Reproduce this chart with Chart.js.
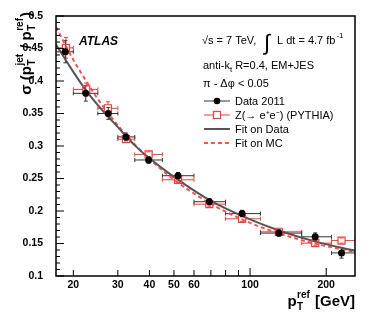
<!DOCTYPE html>
<html>
<head>
<meta charset="utf-8">
<script src="https://cdn.jsdelivr.net/npm/chart.js@4.4.0/dist/chart.umd.min.js"></script>
<style>
  html, body { margin: 0; padding: 0; background: #fff; }
  #wrap { width: 374px; height: 318px; }
</style>
</head>
<body>
<div id="wrap"><canvas id="c" width="374" height="318"></canvas></div>
<script>
// values
const binLo = [17, 20, 25, 30, 35, 45, 60, 80, 110, 160, 210];
const binHi = [20, 25, 30, 35, 45, 60, 80, 110, 160, 210, 260];

const dataX = [18.6, 22.4, 27.5, 32.3, 39.7, 51.9, 69, 93, 130, 181, 230];
const dataY = [0.445, 0.381, 0.350, 0.314, 0.2785, 0.2543, 0.2143, 0.196, 0.166, 0.1603, 0.1355];
const dataErr = [0.017, 0.012, 0.009, 0.006, 0.005, 0.005, 0.005, 0.005, 0.005, 0.006, 0.008];

const mcX = [18.7, 22.5, 27.4, 32.3, 39.7, 51.9, 69, 93, 130, 181, 230];
const mcY = [0.451, 0.387, 0.358, 0.3105, 0.287, 0.248, 0.2105, 0.188, 0.168, 0.1505, 0.1545];
const mcErr = [0.016, 0.010, 0.010, 0.005, 0.004, 0.004, 0.004, 0.004, 0.004, 0.004, 0.004];

const fitX = [17.08, 20, 22.4, 25, 30, 35, 40, 50, 70, 100, 130, 180, 260];
const fitData = [0.456, 0.414, 0.386, 0.363, 0.329, 0.301, 0.281, 0.2525, 0.2155, 0.187, 0.170, 0.1533, 0.139];
const fitMC = [0.483, 0.4325, 0.401, 0.3723, 0.3317, 0.3023, 0.280, 0.2483, 0.2109, 0.1818, 0.1656, 0.150, 0.137];

const xTicks = [20, 30, 40, 50, 60, 70, 80, 90, 100, 200];
const xLabels = [20, 30, 40, 50, 60, 100, 200];

const RED = '#ff3b3b';
const FONT = '"Liberation Sans", Arial, sans-serif';

function pts(xs, ys) {
  return xs.map((x, i) => ({ x: x, y: ys[i] }));
}

// text with stacked sub/superscripts
function richWidth(ctx, parts) {
  let w = 0;
  parts.forEach(p => {
    ctx.font = p.f;
    if (p.sup !== undefined) {
      w += Math.max(ctx.measureText(p.sup).width, ctx.measureText(p.sub).width) + 1.5;
    } else {
      w += ctx.measureText(p.t).width;
    }
  });
  return w;
}
function drawRich(ctx, x, y, parts) {
  ctx.textBaseline = 'alphabetic';
  ctx.textAlign = 'left';
  parts.forEach(p => {
    ctx.font = p.f;
    if (p.sup !== undefined) {
      ctx.fillText(p.sup, x + 0.5, y - 8);
      ctx.fillText(p.sub, x + 0.5, y + 4);
      x += Math.max(ctx.measureText(p.sup).width, ctx.measureText(p.sub).width) + 1.5;
    } else {
      ctx.fillText(p.t, x, y + (p.dy || 0));
      x += ctx.measureText(p.t).width;
    }
  });
  return x;
}

function errBars(ctx, sx, sy, area, xs, ys, err, color, gap) {
  ctx.save();
  ctx.beginPath();
  ctx.rect(area.left, area.top, area.right - area.left, area.bottom - area.top);
  ctx.clip();
  ctx.strokeStyle = color;
  ctx.lineWidth = 1;
  ctx.beginPath();
  for (let i = 0; i < xs.length; i++) {
    const px = sx.getPixelForValue(xs[i]);
    const py = sy.getPixelForValue(ys[i]);
    const xl = sx.getPixelForValue(binLo[i]);
    const xr = sx.getPixelForValue(binHi[i]);
    const yt = sy.getPixelForValue(ys[i] + err[i]);
    const yb = sy.getPixelForValue(ys[i] - err[i]);
    ctx.moveTo(xl, py); ctx.lineTo(px - gap, py);
    ctx.moveTo(px + gap, py); ctx.lineTo(xr, py);
    ctx.moveTo(xl, py - 2); ctx.lineTo(xl, py + 2);
    ctx.moveTo(xr, py - 2); ctx.lineTo(xr, py + 2);
    if (yb - yt > 2 * gap) {
      ctx.moveTo(px, yt); ctx.lineTo(px, py - gap);
      ctx.moveTo(px, py + gap); ctx.lineTo(px, yb);
    }
    ctx.moveTo(px - 2, yt); ctx.lineTo(px + 2, yt);
    ctx.moveTo(px - 2, yb); ctx.lineTo(px + 2, yb);
  }
  ctx.stroke();
  ctx.restore();
}

const decor = {
  id: 'decor',
  beforeDatasetsDraw(chart) {
    const { ctx, chartArea: a, scales } = chart;
    errBars(ctx, scales.x, scales.y, a, mcX, mcY, mcErr, RED, 3.5);
    errBars(ctx, scales.x, scales.y, a, dataX, dataY, dataErr, '#333', 0);
  },
  afterDraw(chart) {
    const { ctx, chartArea: a, scales } = chart;
    ctx.save();
    // frame
    ctx.strokeStyle = '#000';
    ctx.lineWidth = 1.5;
    ctx.strokeRect(a.left, a.top, a.right - a.left, a.bottom - a.top);
    // ticks inside
    ctx.lineWidth = 1;
    ctx.beginPath();
    for (let k = 10; k <= 50; k++) {
      const y = scales.y.getPixelForValue(k / 100);
      const len = k % 5 === 0 ? 8 : 4;
      ctx.moveTo(a.left, y); ctx.lineTo(a.left + len, y);
    }
    xTicks.forEach(v => {
      const x = scales.x.getPixelForValue(v);
      const len = (v === 100 || v === 200) ? 8 : 6;
      ctx.moveTo(x, a.bottom); ctx.lineTo(x, a.bottom - len);
    });
    ctx.stroke();

    ctx.fillStyle = '#000';
    ctx.textBaseline = 'alphabetic';
    // ATLAS
    ctx.font = 'italic bold 12px ' + FONT;
    ctx.fillText('ATLAS', 79, 45);

    // header
    ctx.font = '11px ' + FONT;
    ctx.fillText('√s = 7 TeV,', 202, 44);
    ctx.font = '22px ' + FONT;
    ctx.fillText('∫', 264, 50);
    ctx.font = '11px ' + FONT;
    const hx = 277 + ctx.measureText('L dt = 4.7 fb').width;
    ctx.fillText('L dt = 4.7 fb', 277, 44);
    ctx.font = '8px ' + FONT;
    ctx.fillText('-1', hx + 1, 38);

    drawRich(ctx, 203, 69, [
      { t: 'anti-k', f: '11px ' + FONT },
      { t: 't', f: '8px ' + FONT, dy: 3 },
      { t: ' R=0.4, EM+JES', f: '11px ' + FONT }
    ]);
    ctx.font = '11px ' + FONT;
    ctx.fillText('π - Δφ < 0.05', 203, 87);

    // legend
    const rows = [101, 115, 129, 143];
    const names = ['Data 2011', 'Z(→ e⁺e⁻) (PYTHIA)', 'Fit on Data', 'Fit on MC'];
    ctx.textBaseline = 'middle';
    names.forEach((n, i) => ctx.fillText(n, 235, rows[i] + 0.5));
    ctx.lineWidth = 1;
    ctx.strokeStyle = '#333';
    ctx.beginPath(); ctx.moveTo(204, rows[0]); ctx.lineTo(230, rows[0]); ctx.stroke();
    ctx.beginPath(); ctx.arc(217, rows[0], 3.3, 0, Math.PI * 2); ctx.fill();
    ctx.strokeStyle = RED;
    ctx.beginPath();
    ctx.moveTo(204, rows[1]); ctx.lineTo(213.5, rows[1]);
    ctx.moveTo(220.5, rows[1]); ctx.lineTo(230, rows[1]);
    ctx.stroke();
    ctx.lineWidth = 1.2;
    ctx.strokeRect(213.5, rows[1] - 3.5, 7, 7);
    ctx.lineWidth = 2;
    ctx.strokeStyle = '#555';
    ctx.beginPath(); ctx.moveTo(204, rows[2]); ctx.lineTo(230, rows[2]); ctx.stroke();
    ctx.strokeStyle = '#ff5050';
    ctx.setLineDash([4, 3]);
    ctx.beginPath(); ctx.moveTo(204, rows[3]); ctx.lineTo(230, rows[3]); ctx.stroke();
    ctx.setLineDash([]);

    // axis titles
    const big = 'bold 15px ' + FONT, small = 'bold 10px ' + FONT;
    const xt = [
      { t: 'p', f: big },
      { sup: 'ref', sub: 'T', f: small },
      { t: ' [GeV]', f: big }
    ];
    ctx.fillStyle = '#000';
    drawRich(ctx, a.right - richWidth(ctx, xt), 306, xt);

    const yt = [
      { t: 'σ (p', f: big },
      { sup: 'jet', sub: 'T', f: small },
      { t: ' / p', f: big },
      { sup: 'ref', sub: 'T', f: small },
      { t: ')', f: big }
    ];
    const w = richWidth(ctx, yt);
    ctx.translate(31, 12);
    ctx.rotate(-Math.PI / 2);
    drawRich(ctx, -w, 0, yt);
    ctx.restore();
  }
};

new Chart(document.getElementById('c'), {
  type: 'scatter',
  data: {
    datasets: [
      {
        label: 'Data 2011',
        data: pts(dataX, dataY),
        pointStyle: 'circle',
        pointRadius: 3.5,
        backgroundColor: '#000',
        borderColor: '#000',
        borderWidth: 0
      },
      {
        label: 'Z(→ e+e-) (PYTHIA)',
        data: pts(mcX, mcY),
        pointStyle: 'rect',
        pointRadius: 5,
        backgroundColor: 'rgba(0,0,0,0)',
        borderColor: RED,
        borderWidth: 1.2
      },
      {
        label: 'Fit on Data',
        data: pts(fitX, fitData),
        showLine: true,
        pointRadius: 0,
        borderColor: '#555',
        borderWidth: 2,
        cubicInterpolationMode: 'monotone'
      },
      {
        label: 'Fit on MC',
        data: pts(fitX, fitMC),
        showLine: true,
        pointRadius: 0,
        borderColor: '#ff5050',
        borderWidth: 2,
        borderDash: [4, 3],
        cubicInterpolationMode: 'monotone'
      }
    ]
  },
  options: {
    responsive: false,
    animation: false,
    devicePixelRatio: 1,
    layout: { padding: { left: 0, top: 16, right: 19, bottom: 0 } },
    plugins: { legend: { display: false }, tooltip: { enabled: false } },
    scales: {
      x: {
        type: 'logarithmic',
        min: 17.08,
        max: 260,
        grid: { display: false },
        border: { display: false },
        afterBuildTicks: s => { s.ticks = xLabels.map(v => ({ value: v })); },
        afterFit: s => { s.height = 42; },
        ticks: {
          autoSkip: false,
          maxRotation: 0,
          padding: -5,
          color: '#000',
          font: { family: FONT, size: 10.5, weight: 'bold' },
          callback: v => String(v)
        }
      },
      y: {
        min: 0.1,
        max: 0.5,
        grid: { display: false },
        border: { display: false },
        afterFit: s => { s.width = 56; },
        ticks: {
          stepSize: 0.05,
          padding: 5,
          color: '#000',
          font: { family: FONT, size: 10.5, weight: 'bold' },
          callback: v => String(+v.toFixed(2))
        }
      }
    }
  },
  plugins: [decor]
});
</script>
</body>
</html>
